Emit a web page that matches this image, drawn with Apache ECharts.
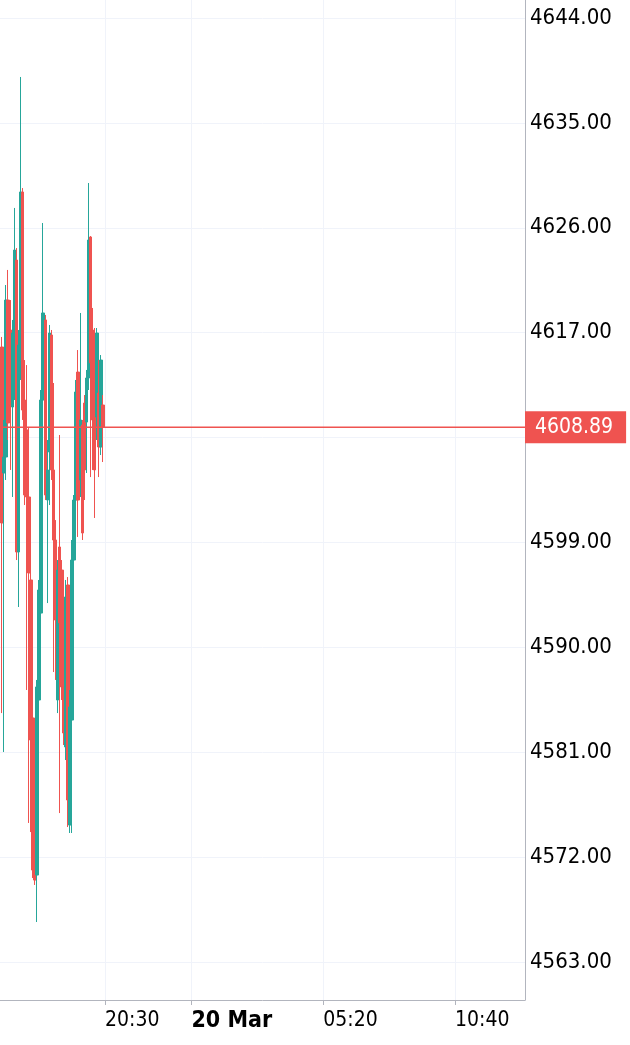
<!DOCTYPE html>
<html>
<head>
<meta charset="utf-8">
<style>
  html, body { margin: 0; padding: 0; background: #fff; }
  #chart { width: 630px; height: 1045px; }
</style>
<script src="https://cdn.jsdelivr.net/npm/echarts@6/dist/echarts.min.js"></script>
</head>
<body>
<div id="chart"></div>
<script>
// 5-minute bars
const opens  = [4615.77, 4604.96, 4606.33, 4619.80, 4617.23, 4610.62, 4616.97, 4623.23, 4598.18, 4614.65,
                4629.07, 4611.22, 4608.65, 4602.90, 4595.78, 4583.94, 4581.62, 4570.46, 4585.48, 4592.94,
                4611.22, 4618.09, 4602.64, 4606.76, 4616.80, 4605.22, 4599.21, 4585.48, 4598.61, 4596.63,
                4592.09, 4581.45, 4595.35, 4574.75, 4583.76, 4597.49, 4602.64, 4613.62, 4604.36, 4609.08,
                4610.96, 4609.33, 4613.11, 4625.21, 4617.23, 4612.77, 4609.76, 4611.82, 4607.19, 4610.79]
const closes = [4600.67, 4606.33, 4619.80, 4609.25, 4610.79, 4616.97, 4624.09, 4598.18, 4615.94, 4629.07,
                4610.36, 4603.07, 4602.90, 4596.38, 4582.05, 4570.89, 4570.03, 4586.60, 4594.92, 4611.22,
                4618.69, 4603.07, 4605.22, 4616.97, 4605.22, 4599.21, 4592.34, 4596.63, 4592.09, 4586.60,
                4582.65, 4594.32, 4576.90, 4584.88, 4597.49, 4602.64, 4611.91, 4602.64, 4609.51, 4599.81,
                4605.22, 4613.11, 4624.95, 4614.40, 4609.51, 4605.22, 4616.97, 4607.19, 4614.65, 4608.89]
const lows   = [4584.36, 4581.02, 4604.36, 4607.79, 4605.22, 4602.90, 4611.22, 4597.49, 4593.46, 4612.94,
                4609.51, 4602.21, 4586.34, 4574.93, 4574.15, 4570.21, 4569.61, 4566.43, 4581.62, 4592.34,
                4609.51, 4602.64, 4593.80, 4602.21, 4604.36, 4587.88, 4587.20, 4584.36, 4575.78, 4585.48,
                4581.62, 4580.33, 4574.58, 4574.07, 4574.07, 4596.63, 4601.78, 4599.47, 4602.90, 4599.21,
                4602.64, 4604.96, 4612.08, 4604.61, 4605.22, 4601.10, 4607.79, 4604.61, 4606.50, 4605.90]
const highs  = [4616.63, 4609.51, 4621.09, 4622.38, 4619.80, 4618.09, 4627.70, 4624.26, 4617.23, 4638.94,
                4629.41, 4614.65, 4614.22, 4608.91, 4596.63, 4585.48, 4582.48, 4587.20, 4595.78, 4612.08,
                4626.41, 4618.52, 4607.79, 4617.66, 4617.23, 4612.68, 4600.92, 4597.49, 4608.22, 4597.49,
                4593.20, 4595.78, 4596.03, 4586.34, 4599.21, 4603.07, 4612.94, 4615.51, 4618.69, 4609.51,
                4611.65, 4613.80, 4629.84, 4625.29, 4619.12, 4617.40, 4617.40, 4614.65, 4615.08, 4611.65]
const lastPrice = 4608.89

// time axis: 5-minute slots from 19 Mar 16:15 to 20 Mar 13:30
const slotCount = 256
const firstBarSlot = 1
const xTickKeys   = ['03-19 20:30', '03-20 00:00', '03-20 05:20', '03-20 10:40']
const xTickLabels = ['20:30', '20 Mar', '05:20', '10:40']

const pad = n => String(n).padStart(2, '0')
const categories = []
const t0 = new Date(2024, 2, 19, 16, 15).getTime()
for (let k = 0; k < slotCount; k++) {
  const d = new Date(t0 + k * 5 * 60000)
  categories.push(`${pad(d.getMonth() + 1)}-${pad(d.getDate())} ${pad(d.getHours())}:${pad(d.getMinutes())}`)
}
const candleTimes = categories.slice(firstBarSlot, firstBarSlot + opens.length)
const candleData = candleTimes.map((t, i) => [t, opens[i], closes[i], lows[i], highs[i]])
// horizontal last-price line across the whole time range
const priceLineData = [[categories[0], lastPrice], [categories[slotCount - 1], lastPrice]]

const UP = '#26a69a'
const DOWN = '#ef5350'
const GRID_LINE = '#f0f3fa'
const AXIS_LINE = '#b2b5be'
const fontFamily = '"DejaVu Sans Condensed", "DejaVu Sans", sans-serif'

const isTick = (idx, val) => xTickKeys.indexOf(val) >= 0

const chart = echarts.init(document.getElementById('chart'))
chart.setOption({
  animation: false,
  textStyle: { fontFamily },
  grid: [
    { left: 0, right: 105, top: 18, bottom: 83 },
    { left: 0, right: 105, top: 0, bottom: 45 }
  ],
  xAxis: [
    {
      type: 'category', gridIndex: 0, data: categories, boundaryGap: false, show: false
    },
    {
      type: 'category', gridIndex: 1, data: categories, boundaryGap: false,
      axisLine: { lineStyle: { color: AXIS_LINE, width: 1 } },
      axisTick: { show: true, interval: isTick, length: 5, lineStyle: { color: AXIS_LINE } },
      splitLine: { show: true, interval: isTick, lineStyle: { color: GRID_LINE, width: 1 } },
      axisLabel: {
        interval: isTick,
        margin: 10,
        align: 'left',
        color: '#000',
        fontSize: 21,
        fontFamily,
        formatter: val => {
          const k = xTickKeys.indexOf(val)
          if (k < 0) return ''
          return k === 1 ? `{b|${xTickLabels[k]}}` : xTickLabels[k]
        },
        rich: { b: { fontWeight: 'bold', fontSize: 23, color: '#000', fontFamily } }
      }
    }
  ],
  yAxis: [
    {
      type: 'value', gridIndex: 0, position: 'right',
      min: 4563, max: 4644, interval: 9,
      axisLine: { show: false },
      axisTick: { show: false },
      splitLine: { show: true, lineStyle: { color: GRID_LINE, width: 1 } },
      axisLabel: {
        margin: 5, color: '#000', fontSize: 22, fontFamily,
        formatter: v => v.toFixed(2)
      }
    },
    {
      type: 'value', gridIndex: 1, position: 'right',
      axisLine: { show: true, lineStyle: { color: AXIS_LINE, width: 1 } },
      axisTick: { show: false },
      splitLine: { show: false },
      axisLabel: { show: false }
    }
  ],
  series: [
    {
      type: 'candlestick',
      xAxisIndex: 0,
      yAxisIndex: 0,
      data: candleData,
      encode: { x: 0, y: [1, 2, 3, 4] },
      barWidth: 3,
      z: 2,
      itemStyle: {
        color: UP, color0: DOWN,
        borderColor: UP, borderColor0: DOWN,
        borderWidth: 1
      }
    },
    {
      // last price line + tag, drawn over the candles
      type: 'line',
      xAxisIndex: 0,
      yAxisIndex: 0,
      data: priceLineData,
      symbol: 'none',
      silent: true,
      z: 5,
      lineStyle: { color: DOWN, width: 1.5, type: 'solid' },
      itemStyle: { color: DOWN },
      endLabel: {
        show: true,
        distance: 0,
        formatter: lastPrice.toFixed(2),
        color: '#fff',
        backgroundColor: DOWN,
        fontSize: 21,
        fontFamily,
        padding: [6, 13, 5, 10]
      }
    }
  ]
})
</script>
</body>
</html>
